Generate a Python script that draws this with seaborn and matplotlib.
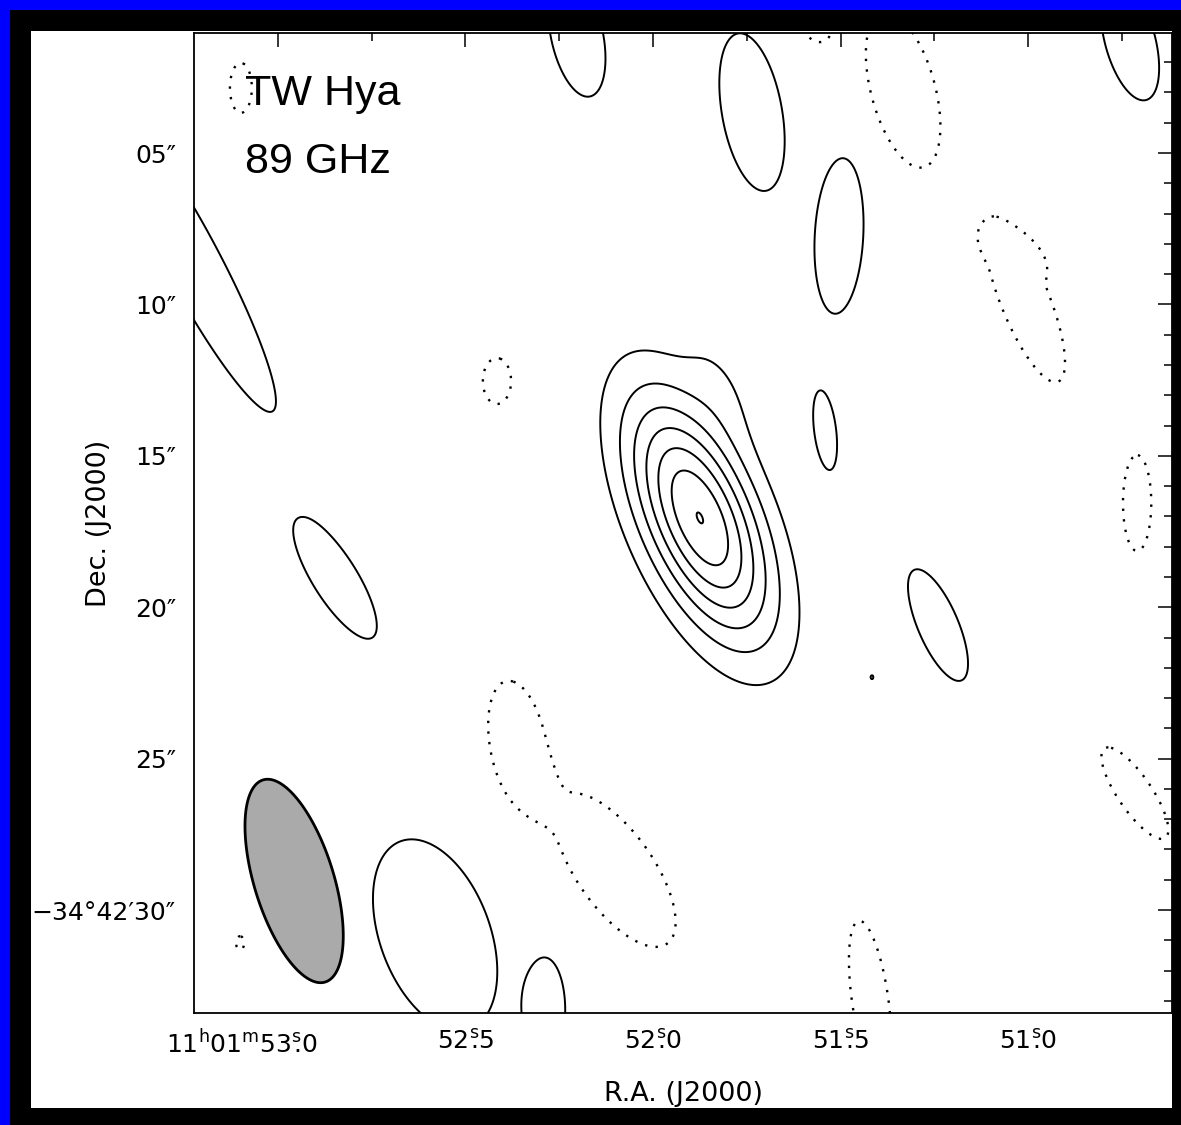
import numpy as np
import matplotlib
matplotlib.use("Agg")
import matplotlib.pyplot as plt
import seaborn as sns
from matplotlib.ticker import MultipleLocator
from matplotlib.patches import Rectangle

# ---------------- data ----------------
# Emission components (RA in seconds of 11h01m, Dec in arcsec of -34d42m),
# amplitude in units of the map rms, widths in arcsec, tilt in deg,
# profile exponent (2 = Gaussian)
comp_ra = [51.875, 51.819, 53.099, 53.235, 52.203, 51.736, 51.504, 51.333,
           51.557, 50.728, 51.008, 51.035, 52.416, 51.541, 50.709, 52.848,
           51.240, 52.360, 52.101, 52.581, 52.288, 51.421, 50.715, 53.101,
           51.416]
comp_dec = [17.05, 12.56, 2.85, 8.43, 1.10, 3.65, 7.74, 2.92,
            0.94, 1.27, 9.86, 8.27, 12.53, 14.15, 16.56, 19.04,
            20.59, 24.55, 28.68, 30.83, 33.30, 32.97, 26.14, 31.09,
            22.31]
comp_amp = [14.03, 1.4, -3, 3, 3, 3, 3, -3,
            -3, 3, -3, -3, -3, 3, -3, 3,
            3, -3, -3, 3, 3, -3, -3, -3,
            3]
comp_maj = [2.99, 1.40, 0.87, 6.09, 2.19, 2.78, 2.71, 2.78,
            0.42, 2.16, 3.06, 1.04, 0.80, 1.39, 1.67, 2.44,
            2.09, 2.26, 3.13, 3.48, 1.81, 2.78, 1.88, 0.24,
            0.07]
comp_min = [1.28, 0.66, 0.38, 0.96, 0.90, 1.04, 0.84, 1.11,
            0.42, 0.87, 0.84, 0.56, 0.49, 0.38, 0.49, 0.77,
            0.70, 0.97, 1.32, 1.91, 0.70, 0.63, 0.59, 0.14,
            0.05]
comp_tilt = [23, 25, 0, 28, 12, 10, -3, 15,
             0, 15, 22, 60, 0, 7, 0, 32,
             23, 10, 35, 20, 0, 8, 34, 0,
             0]
comp_pow = [2, 2] + [4] * 23

pos_levels = [2, 4, 6, 8, 10, 12, 14]
neg_levels = [-2]

# synthesized beam: centre RA, Dec, FWHM major / minor (arcsec), PA (deg)
beam_ra, beam_dec = 52.957, 29.04
beam_maj, beam_min, beam_pa = 6.98, 2.62, 17

ra_ticks = [53.0, 52.5, 52.0, 51.5, 51.0]
ra_labels = [r"11$^{\rm h}$01$^{\rm m}$53$^{\rm s}\!\!$.0",
             r"52$^{\rm s}\!\!$.5", r"52$^{\rm s}\!\!$.0",
             r"51$^{\rm s}\!\!$.5", r"51$^{\rm s}\!\!$.0"]
dec_ticks = [5, 10, 15, 20, 25, 30]
dec_labels = ["05″", "10″", "15″", "20″", "25″", "−34°42′30″"]

title_lines = ["TW Hya", "89 GHz"]
xlabel = "R.A. (J2000)"
ylabel = "Dec. (J2000)"

# ---------------- build the map ----------------
S2A = 15 * np.cos(np.deg2rad(34.71))
ra = np.linspace(50.55, 53.3, 1000)
dec = np.linspace(0.5, 34.0, 1000)
RA, DEC = np.meshgrid(ra, dec)
Z = np.zeros_like(RA)
for r0, d0, a, smaj, smin, t, p in zip(comp_ra, comp_dec, comp_amp, comp_maj,
                                       comp_min, comp_tilt, comp_pow):
    dx = (r0 - RA) * S2A
    dy = DEC - d0
    th = np.deg2rad(t)
    u = dx * np.sin(th) + dy * np.cos(th)
    v = dx * np.cos(th) - dy * np.sin(th)
    q2 = (u / smaj) ** 2 + (v / smin) ** 2
    Z += a * np.exp(-0.5 * q2 ** (p / 2))

# ---------------- figure ----------------
sns.set_style("white")
plt.rcParams["font.family"] = ["DejaVu Sans"]
plt.rcParams["mathtext.fontset"] = "dejavusans"
for k in ["text.color", "axes.labelcolor", "xtick.color", "ytick.color"]:
    plt.rcParams[k] = "black"

W, H = 1181, 1125
fig = plt.figure(figsize=(W / 100, H / 100), dpi=100)
fig.patch.set_facecolor("#0000ff")
fig.add_artist(Rectangle((10 / W, 0), 1 - 10 / W, (H - 10) / H,
                         transform=fig.transFigure, facecolor="black",
                         edgecolor="none", zorder=-3))
fig.add_artist(Rectangle((31 / W, (H - 1108) / H), (1172 - 31) / W,
                         (1108 - 31) / H, transform=fig.transFigure,
                         facecolor="white", edgecolor="none", zorder=-2))

ax_l, ax_r, ax_t, ax_b = 194, 1172, 33, 1013
ax = fig.add_axes([ax_l / W, (H - ax_b) / H, (ax_r - ax_l) / W, (ax_b - ax_t) / H])
ax.set_facecolor("white")

ax.contour(RA, DEC, Z, levels=pos_levels, colors="black",
           linewidths=1.4, linestyles="solid")
ax.contour(RA, DEC, Z, levels=neg_levels, colors="black",
           linewidths=1.7, linestyles=[(0, (1, 3.5))])

# beam ellipse
tt = np.linspace(0, 2 * np.pi, 300)
pa = np.deg2rad(beam_pa)
uu = 0.5 * beam_maj * np.cos(tt)
vv = 0.5 * beam_min * np.sin(tt)
bx = uu * np.sin(pa) + vv * np.cos(pa)
by = uu * np.cos(pa) - vv * np.sin(pa)
ax.fill(beam_ra - bx / S2A, beam_dec + by, facecolor="#aaaaaa",
        edgecolor="black", linewidth=2.0, zorder=3)

ax.set_xlim(53.224, 50.616)
ax.set_ylim(33.40, 1.037)

ax.set_xticks(ra_ticks)
ax.set_xticklabels([""] + ra_labels[1:])
ax.xaxis.set_minor_locator(MultipleLocator(0.25))
ax.set_yticks(dec_ticks)
ax.set_yticklabels(dec_labels)
ax.yaxis.set_minor_locator(MultipleLocator(1))
ax.tick_params(which="both", direction="in", top=True, right=True,
               color="black", width=1.1, labelsize=18)
ax.tick_params(which="major", length=10)
ax.tick_params(which="minor", length=5.5)
ax.tick_params(axis="x", pad=12)
ax.tick_params(axis="y", pad=13)
ax.annotate(ra_labels[0], xy=(ra_ticks[0], 0), xycoords=("data", "axes fraction"),
            xytext=(-26, -12), textcoords="offset points", ha="center",
            va="top", fontsize=18)
for s in ax.spines.values():
    s.set_color("black")
    s.set_linewidth(1.3)

ax.set_xlabel(xlabel, fontsize=19.5)
ax.xaxis.set_label_coords(0.5, -(1081 - ax_b) / (ax_b - ax_t))
ax.xaxis.label.set_va("top")
ax.set_ylabel(ylabel, fontsize=19.5, va="center")
ax.yaxis.set_label_coords(-(ax_l - 99) / (ax_r - ax_l), 0.5)

ax.text((245 - ax_l) / (ax_r - ax_l), (ax_b - 105) / (ax_b - ax_t), title_lines[0],
        transform=ax.transAxes, fontsize=31, family="Liberation Sans",
        va="baseline", ha="left")
ax.text((245 - ax_l) / (ax_r - ax_l), (ax_b - 173) / (ax_b - ax_t), title_lines[1],
        transform=ax.transAxes, fontsize=31, family="Liberation Sans",
        va="baseline", ha="left")

fig.savefig("out.png", dpi=100, facecolor=fig.get_facecolor())
